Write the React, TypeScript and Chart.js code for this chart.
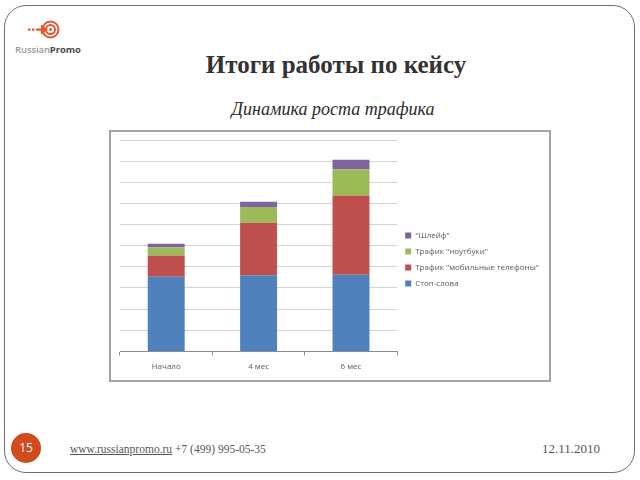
import React, { useEffect, useRef } from "react";
import { Chart, registerables } from "chart.js";

Chart.register(...registerables);

const categories = ["Начало", "4 мес", "6 мес"];
const seriesNames = ["Стоп-слова", "Трафик \"мобильные телефоны\"", "Трафик \"ноутбуки\"", "\"Шлейф\""];
const stopWords = [3.53, 3.6, 3.63];
const mobilePhones = [1.01, 2.48, 3.75];
const notebooks = [0.39, 0.75, 1.24];
const shleif = [0.16, 0.25, 0.44];
const seriesColors = ["#4F81BD", "#C0504D", "#9BBB59", "#8064A2"];
const yMin = 0;
const yMax = 10;
const yStep = 1;

const titleText = "Итоги работы по кейсу";
const subtitleText = "Динамика роста трафика";
const siteText = "www.russianpromo.ru";
const phoneText = "+7 (499) 995-05-35";
const dateText = "12.11.2010";
const slideNumber = "15";

function TrafficChart() {
  const ref = useRef<HTMLCanvasElement | null>(null);
  useEffect(() => {
    if (!ref.current) return;
    const values = [stopWords, mobilePhones, notebooks, shleif];
    const chart = new Chart(ref.current, {
      type: "bar",
      data: {
        labels: categories,
        datasets: seriesNames.map((name, i) => ({
          label: name,
          data: values[i],
          backgroundColor: seriesColors[i],
          borderWidth: 0,
          categoryPercentage: 1,
          barPercentage: 0.4,
        })),
      },
      options: {
        animation: false,
        responsive: false,
        maintainAspectRatio: false,
        layout: { padding: { left: 9, top: 8, right: 0, bottom: 1 } },
        plugins: {
          tooltip: { enabled: false },
          legend: {
            position: "right",
            reverse: true,
            maxWidth: 220,
            labels: {
              boxWidth: 6,
              boxHeight: 6,
              padding: 8,
              color: "#595959",
              font: { family: "'Open Sans', sans-serif", size: 8 },
            },
          },
        },
        scales: {
          x: {
            stacked: true,
            grid: { drawOnChartArea: false, drawTicks: true, tickLength: 4, color: "#8c8c8c" },
            border: { display: true, color: "#8c8c8c" },
            ticks: {
              color: "#595959",
              padding: 7,
              font: { family: "'Open Sans', sans-serif", size: 8 },
            },
          },
          y: {
            stacked: true,
            min: yMin,
            max: yMax,
            ticks: { display: false, stepSize: yStep },
            grid: { color: "#d4d4d4", drawTicks: false },
            border: { display: false },
          },
        },
      },
    });
    return () => chart.destroy();
  }, []);
  return <canvas ref={ref} width={438} height={248} style={{ display: "block" }} />;
}

function Logo() {
  return (
    <div style={{ position: "absolute", left: 10, top: 14, width: 80, height: 44 }}>
      <svg width={80} height={30} style={{ position: "absolute", left: 0, top: 0 }}>
        <circle cx={40.5} cy={15.5} r={8} fill="none" stroke="#e4572e" strokeWidth={2} />
        <circle cx={40.5} cy={15.5} r={4.5} fill="none" stroke="#e4572e" strokeWidth={2} />
        <circle cx={40.5} cy={15.5} r={1.5} fill="#e4572e" />
        <rect x={18} y={14.5} width={2.5} height={2.2} fill="#e4572e" />
        <rect x={22} y={14.5} width={2.5} height={2.2} fill="#e4572e" />
        <rect x={26} y={14.5} width={7} height={2.2} fill="#e4572e" />
        <path d="M31 10.5 L38 15.6 L31 20.7 Z" fill="#e4572e" />
      </svg>
      <div
        style={{
          position: "absolute",
          left: 5,
          top: 29,
          fontFamily: "'Open Sans', sans-serif",
          fontSize: 9.5,
          letterSpacing: -0.1,
          whiteSpace: "nowrap",
        }}
      >
        <span style={{ color: "#9a9a9a", fontWeight: 600 }}>Russian</span>
        <span style={{ color: "#4a4a4a", fontWeight: 700 }}>Promo</span>
      </div>
    </div>
  );
}

export default function App() {
  return (
    <div
      style={{
        position: "fixed",
        left: 0,
        top: 0,
        width: 640,
        height: 480,
        background: "#ffffff",
        overflow: "hidden",
      }}
    >
      <div
        style={{
          position: "absolute",
          left: 4,
          top: 5,
          width: 631,
          height: 468,
          border: "1.5px solid #6f6f6f",
          borderRadius: 22,
          boxSizing: "border-box",
        }}
      />
      <Logo />
      <div
        style={{
          position: "absolute",
          left: 136,
          top: 50,
          width: 400,
          textAlign: "center",
          fontFamily: "'Liberation Serif', serif",
          fontWeight: 700,
          fontSize: 25,
          lineHeight: "30px",
          color: "#333333",
        }}
      >
        {titleText}
      </div>
      <div
        style={{
          position: "absolute",
          left: 133,
          top: 97,
          width: 400,
          textAlign: "center",
          fontFamily: "'Liberation Serif', serif",
          fontStyle: "italic",
          fontSize: 18,
          lineHeight: "24px",
          color: "#2a2a2a",
        }}
      >
        {subtitleText}
      </div>
      <div
        style={{
          position: "absolute",
          left: 109,
          top: 130,
          width: 442,
          height: 252,
          border: "2px solid #a3a3a3",
          boxSizing: "border-box",
          background: "#ffffff",
        }}
      >
        <TrafficChart />
      </div>
      <div
        style={{
          position: "absolute",
          left: 11,
          top: 433,
          width: 30,
          height: 30,
          borderRadius: 15,
          background: "#d14b1c",
          color: "#ffffff",
          fontFamily: "'Open Sans', sans-serif",
          fontSize: 12,
          lineHeight: "30px",
          textAlign: "center",
        }}
      >
        {slideNumber}
      </div>
      <div
        style={{
          position: "absolute",
          left: 70,
          top: 441,
          fontFamily: "'Liberation Serif', serif",
          fontSize: 11.5,
          lineHeight: "16px",
          color: "#555555",
          whiteSpace: "nowrap",
        }}
      >
        <span style={{ textDecoration: "underline" }}>{siteText}</span>
        <span>{"  " + phoneText}</span>
      </div>
      <div
        style={{
          position: "absolute",
          left: 520,
          top: 441,
          width: 80,
          textAlign: "right",
          fontFamily: "'Liberation Serif', serif",
          fontSize: 13,
          lineHeight: "16px",
          color: "#555555",
          whiteSpace: "nowrap",
        }}
      >
        {dateText}
      </div>
    </div>
  );
}
